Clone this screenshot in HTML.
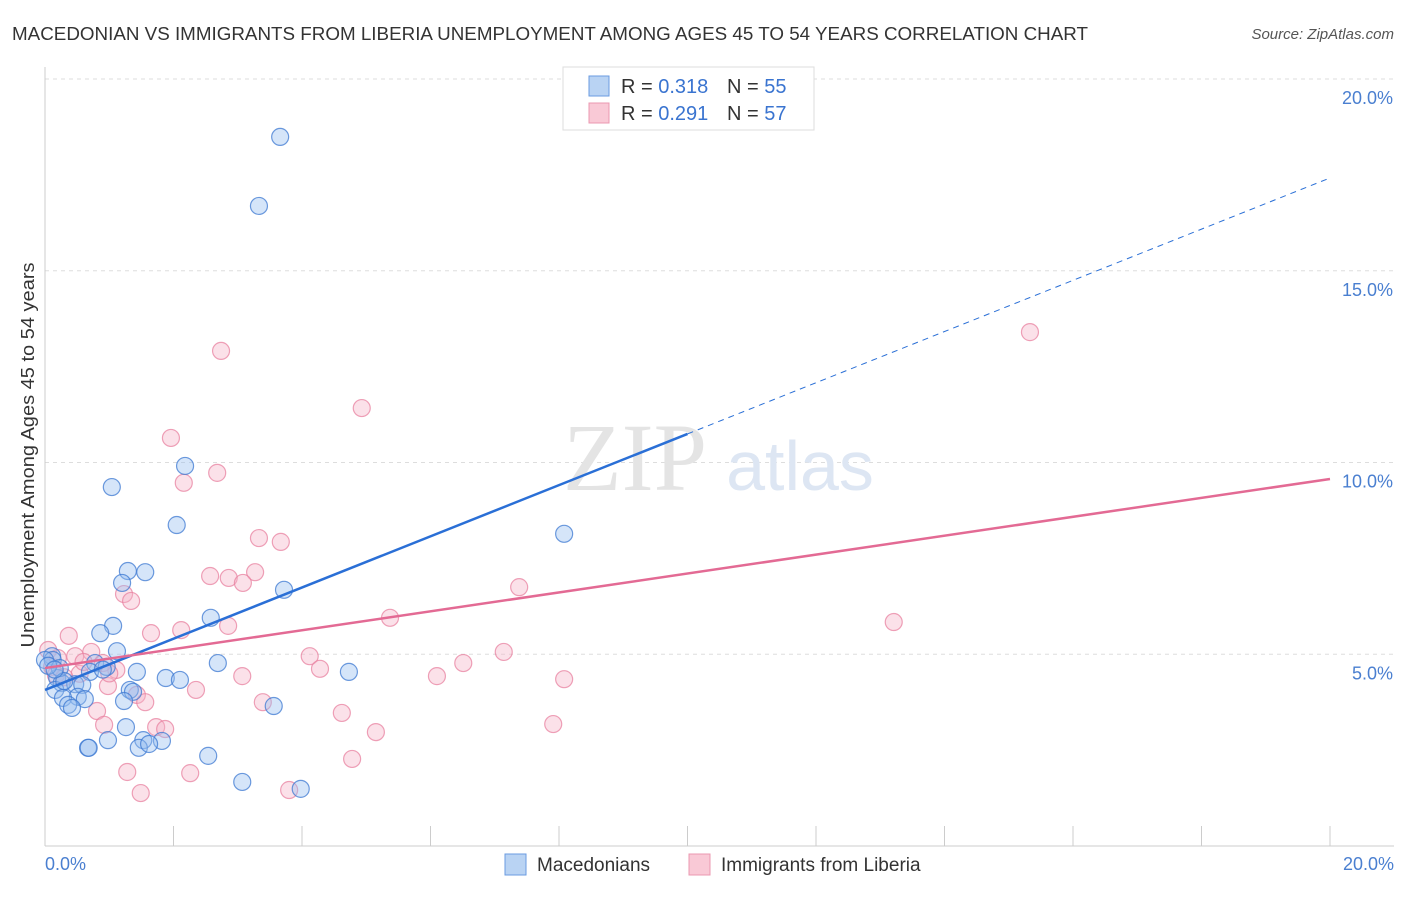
<!DOCTYPE html>
<html><head><meta charset="utf-8"><style>
body{margin:0;background:#fff;font-family:"Liberation Sans",sans-serif;}
</style></head><body>
<svg width="1406" height="892" viewBox="0 0 1406 892" xmlns="http://www.w3.org/2000/svg">
<text x="12" y="40" font-size="18" fill="#333" textLength="1076" lengthAdjust="spacingAndGlyphs">MACEDONIAN VS IMMIGRANTS FROM LIBERIA UNEMPLOYMENT AMONG AGES 45 TO 54 YEARS CORRELATION CHART</text>
<text x="1394" y="39" font-size="15" fill="#555" font-style="italic" text-anchor="end">Source: ZipAtlas.com</text>
<g id="grid"></g>
<text x="635" y="490" font-size="96" fill="#e4e4e4" font-family="Liberation Serif,serif" text-anchor="middle">ZIP</text>
<text x="800" y="490" font-size="70" fill="#dde6f3" text-anchor="middle">atlas</text>
<g id="pts"></g>
<g id="lines"></g>
<text x="34" y="455" font-size="18" fill="#333" text-anchor="middle" transform="rotate(-90 34 455)" textLength="385" lengthAdjust="spacingAndGlyphs">Unemployment Among Ages 45 to 54 years</text>
<text x="45" y="870" font-size="18" fill="#4a7fd0">0.0%</text>
<text x="1394" y="870" font-size="18" fill="#4a7fd0" text-anchor="end">20.0%</text>
<g>
<rect x="563" y="67" width="251" height="63" fill="#fff" stroke="#ddd"/>
<rect x="589" y="76" width="20" height="20" fill="#b9d3f3" stroke="#6a9be0"/>
<rect x="589" y="103" width="20" height="20" fill="#f9c9d6" stroke="#eb98b0"/>
<text x="621" y="93" font-size="20" fill="#333">R = <tspan fill="#3a74d0">0.318</tspan></text>
<text x="727" y="93" font-size="20" fill="#333">N = <tspan fill="#3a74d0">55</tspan></text>
<text x="621" y="120" font-size="20" fill="#333">R = <tspan fill="#3a74d0">0.291</tspan></text>
<text x="727" y="120" font-size="20" fill="#333">N = <tspan fill="#3a74d0">57</tspan></text>
</g>
<g>
<rect x="505" y="854" width="21" height="21" fill="#b9d3f3" stroke="#6a9be0"/>
<text x="537" y="871" font-size="19" fill="#333">Macedonians</text>
<rect x="689" y="854" width="21" height="21" fill="#f9c9d6" stroke="#eb98b0"/>
<text x="721" y="871" font-size="19" fill="#333">Immigrants from Liberia</text>
</g>
</svg>
<script>
const yTicks=[5,10,15,20];
const yTickLabels=["5.0%","10.0%","15.0%","20.0%"];
const xTicks=[0,2,4,6,8,10,12,14,16,18,20];
const blueX=[3.66,3.33,1.04,2.18,2.05,8.08,1.29,1.56,1.20,3.72,2.58,1.06,0.86,1.12,0.11,0.12,2.69,0.78,0.96,1.43,4.73,0.70,1.88,2.10,0.19,0.26,0.47,0.58,0.16,1.32,1.37,0.51,0.28,0.62,0.36,1.23,0.42,3.56,1.26,0.98,1.53,1.82,0.67,1.46,1.62,2.54,3.07,3.98,0,0.23,0.05,0.68,0.3,0.15,0.9];
const blueY=[18.49,16.69,9.36,9.91,8.37,8.14,7.17,7.14,6.86,6.68,5.95,5.74,5.55,5.08,4.95,4.85,4.77,4.77,4.67,4.54,4.54,4.54,4.38,4.33,4.38,4.25,4.22,4.20,4.07,4.07,4.02,3.89,3.86,3.83,3.68,3.78,3.60,3.65,3.10,2.76,2.76,2.74,2.56,2.56,2.66,2.35,1.67,1.49,4.85,4.64,4.7,2.56,4.3,4.6,4.6];
const pinkX=[15.33,2.74,4.93,1.96,2.68,2.16,3.33,3.67,3.27,2.57,2.86,3.08,7.38,1.23,1.34,5.37,13.21,2.85,2.12,1.65,0.37,7.14,4.12,0.72,0.47,6.51,1.11,4.28,0.90,0.11,0.05,6.10,3.07,8.08,0.54,0.98,2.35,1.43,3.39,1.56,0.81,4.62,7.91,1.73,1.87,0.92,5.15,4.78,1.28,2.26,3.80,1.49,0.17,0.3,0.6,1.0,0.2];
const pinkY=[13.40,12.91,11.42,10.64,9.73,9.47,8.03,7.93,7.14,7.04,6.99,6.86,6.75,6.57,6.39,5.95,5.84,5.74,5.63,5.55,5.48,5.06,4.95,5.06,4.95,4.77,4.59,4.62,4.77,4.67,5.11,4.43,4.43,4.35,4.49,4.17,4.07,3.94,3.75,3.75,3.52,3.47,3.18,3.10,3.05,3.16,2.97,2.27,1.93,1.90,1.46,1.38,4.46,4.4,4.8,4.5,4.9];
const blueLine=[4.07,17.42];
const blueSolidEnd=10;
const pinkLine=[4.64,9.57];
const X=v=>45+v*64.25, Y=v=>846-v*38.35;
const NS="http://www.w3.org/2000/svg";
function mk(t,a,p){const e=document.createElementNS(NS,t);for(const k in a)e.setAttribute(k,a[k]);p.appendChild(e);return e;}
const g=document.getElementById('grid');
yTicks.forEach((t,i)=>{
 const l=mk('line',{x1:45,x2:1394,y1:Y(t),y2:Y(t),stroke:'#ddd','stroke-dasharray':'4,4'},g);
 
 
 const tx=mk('text',{x:1393,y:Y(t)+25,'font-size':18,fill:'#4a7fd0','text-anchor':'end'},g);
 tx.textContent=yTickLabels[i];
 
 
});
const ax=mk('line',{x1:45,x2:45,y1:67,y2:846,stroke:'#ccc'},g);


const bx=mk('line',{x1:45,x2:1394,y1:846,y2:846,stroke:'#ccc'},g);


xTicks.forEach(t=>{
 const l=mk('line',{x1:X(t),x2:X(t),y1:826,y2:846,stroke:'#ccc'},g);
 
 
});
const p=document.getElementById('pts');
pinkX.forEach((x,i)=>{
 const c=mk('circle',{cx:X(x),cy:Y(pinkY[i]),r:8.5,fill:'rgba(246,180,200,0.4)',stroke:'rgba(232,130,160,0.75)','stroke-width':1.2},p);
 
 
});
blueX.forEach((x,i)=>{
 const c=mk('circle',{cx:X(x),cy:Y(blueY[i]),r:8.5,fill:'rgba(150,190,240,0.4)',stroke:'rgba(60,120,210,0.75)','stroke-width':1.2},p);
 
 
});
const L=document.getElementById('lines');
const by=x=>blueLine[0]+(blueLine[1]-blueLine[0])*x/20;
const b1=mk('line',{x1:X(0),y1:Y(by(0)),x2:X(blueSolidEnd),y2:Y(by(blueSolidEnd)),stroke:'#2a6fd6','stroke-width':2.5},L);


const b2=mk('line',{x1:X(blueSolidEnd),y1:Y(by(blueSolidEnd)),x2:X(20),y2:Y(by(20)),stroke:'#2a6fd6','stroke-width':1,'stroke-dasharray':'6,5'},L);


const p1=mk('line',{x1:X(0),y1:Y(pinkLine[0]),x2:X(20),y2:Y(pinkLine[1]),stroke:'#e36a94','stroke-width':2.5},L);


</script>
</body></html>
